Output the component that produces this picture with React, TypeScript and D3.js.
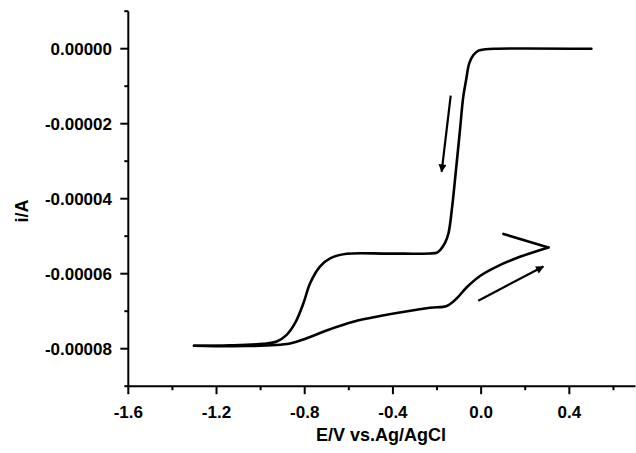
import React from "react";
import * as d3 from "d3";

// Cathodic sweep: 0.5 V -> -1.3 V
const forwardE = [0.5, 0.06, 0.02, -0.012, -0.035, -0.054, -0.068, -0.081, -0.096, -0.114, -0.133, -0.148, -0.164, -0.186, -0.201, -0.232, -0.42, -0.61, -0.685, -0.731, -0.776, -0.806, -0.844, -0.882, -0.927, -0.988, -1.139, -1.302];
const forwardI = [0, 0, -0.15e-6, -0.5e-6, -1.7e-6, -3.9e-6, -8.3e-6, -1.28e-5, -2.17e-5, -3.23e-5, -4.3e-5, -4.92e-5, -5.18e-5, -5.37e-5, -5.44e-5, -5.46e-5, -5.465e-5, -5.47e-5, -5.59e-5, -5.81e-5, -6.26e-5, -6.79e-5, -7.32e-5, -7.63e-5, -7.81e-5, -7.87e-5, -7.91e-5, -7.92e-5];
// Anodic sweep: -1.3 V -> 0.305 V
const reverseE = [-1.302, -1.063, -0.867, -0.791, -0.685, -0.58, -0.459, -0.232, -0.156, -0.111, -0.065, -0.005, 0.071, 0.176, 0.305];
const reverseI = [-7.92e-5, -7.93e-5, -7.86e-5, -7.72e-5, -7.48e-5, -7.28e-5, -7.13e-5, -6.91e-5, -6.86e-5, -6.66e-5, -6.36e-5, -6.06e-5, -5.81e-5, -5.55e-5, -5.3e-5];
// Final segment after vertex
const tailE = [0.305, 0.101];
const tailI = [-5.3e-5, -4.94e-5];

// Arrow annotations [startE, startI, tipE, tipI]
const arrowDown = [-0.138, -1.253e-5, -0.179, -3.28e-5];
const arrowUp = [-0.013, -6.72e-5, 0.282, -5.81e-5];

const xMajorTicks = [-1.6, -1.2, -0.8, -0.4, 0.0, 0.4];
const xMinorTicks = [-1.4, -1.0, -0.6, -0.2, 0.2, 0.6];
const yMajorTicks = [0, -0.00002, -0.00004, -0.00006, -0.00008];
const yMinorTicks = [0.00001, -0.00001, -0.00003, -0.00005, -0.00007, -0.00009];

const xTickLabels = ["-1.6", "-1.2", "-0.8", "-0.4", "0.0", "0.4"];
const yTickLabels = ["0.00000", "-0.00002", "-0.00004", "-0.00006", "-0.00008"];

const W = 636;
const H = 453;
const FONT = "'Liberation Sans', Arial, Helvetica, sans-serif";

export default function App() {
  const x = d3.scaleLinear().domain([-1.6, 0.7]).range([128.3, 635.5]);
  const y = d3.scaleLinear().domain([-0.00009, 0.00001]).range([386.2, 11.2]);

  const toPts = (es: number[], is: number[]) => es.map((e, k) => [e, is[k]] as [number, number]);
  const smooth = d3
    .line<[number, number]>()
    .x((d) => x(d[0]))
    .y((d) => y(d[1]))
    .curve(d3.curveCatmullRom.alpha(0.5));
  const straight = d3
    .line<[number, number]>()
    .x((d) => x(d[0]))
    .y((d) => y(d[1]));

  const x0 = x.range()[0];
  const y0 = y.range()[0];

  return (
    <svg width={W} height={H} style={{ position: "absolute", left: 0, top: 0, background: "#fff" }} fontFamily={FONT}>
      <defs>
        <marker id="ah" viewBox="0 0 10 10" refX="9" refY="5" markerWidth="11" markerHeight="8" markerUnits="userSpaceOnUse" orient="auto">
          <path d="M0,0 L10,5 L0,10 z" fill="#000" />
        </marker>
      </defs>
      <rect width={W} height={H} fill="#fff" />

      {/* curve */}
      <path d={smooth(toPts(forwardE, forwardI)) || ""} fill="none" stroke="#000" strokeWidth={2.6} strokeLinejoin="round" strokeLinecap="round" />
      <path d={smooth(toPts(reverseE, reverseI)) || ""} fill="none" stroke="#000" strokeWidth={2.6} strokeLinejoin="round" strokeLinecap="round" />
      <path d={straight(toPts(tailE, tailI)) || ""} fill="none" stroke="#000" strokeWidth={2.6} strokeLinejoin="round" strokeLinecap="round" />

      {/* arrows */}
      {[arrowDown, arrowUp].map((a, k) => (
        <line key={k} x1={x(a[0])} y1={y(a[1])} x2={x(a[2])} y2={y(a[3])} stroke="#000" strokeWidth={2.2} markerEnd="url(#ah)" />
      ))}

      {/* axes */}
      <line x1={x0} y1={y.range()[1]} x2={x0} y2={y0 + 1} stroke="#000" strokeWidth={2} />
      <line x1={x0 - 1} y1={y0} x2={x.range()[1]} y2={y0} stroke="#000" strokeWidth={2} />

      {yMajorTicks.map((t, k) => (
        <g key={"ym" + k}>
          <line x1={x0 - 8} x2={x0} y1={y(t)} y2={y(t)} stroke="#000" strokeWidth={2} />
          <text x={112} y={y(t) + 6} textAnchor="end" fontSize={17} fontWeight="bold">
            {yTickLabels[k]}
          </text>
        </g>
      ))}
      {yMinorTicks.map((t, k) => (
        <line key={"yn" + k} x1={x0 - 4} x2={x0} y1={y(t)} y2={y(t)} stroke="#000" strokeWidth={2} />
      ))}

      {xMajorTicks.map((t, k) => (
        <g key={"xm" + k}>
          <line x1={x(t)} x2={x(t)} y1={y0} y2={y0 + 8} stroke="#000" strokeWidth={2} />
          <text x={x(t)} y={418} textAnchor="middle" fontSize={17} fontWeight="bold">
            {xTickLabels[k]}
          </text>
        </g>
      ))}
      {xMinorTicks.map((t, k) => (
        <line key={"xn" + k} x1={x(t)} x2={x(t)} y1={y0} y2={y0 + 4} stroke="#000" strokeWidth={2} />
      ))}

      <text x={381} y={441} textAnchor="middle" fontSize={18} fontWeight="bold">
        E/V vs.Ag/AgCl
      </text>
      <text transform={`translate(28,211) rotate(-90)`} textAnchor="middle" fontSize={18} fontWeight="bold">
        i/A
      </text>
    </svg>
  );
}
